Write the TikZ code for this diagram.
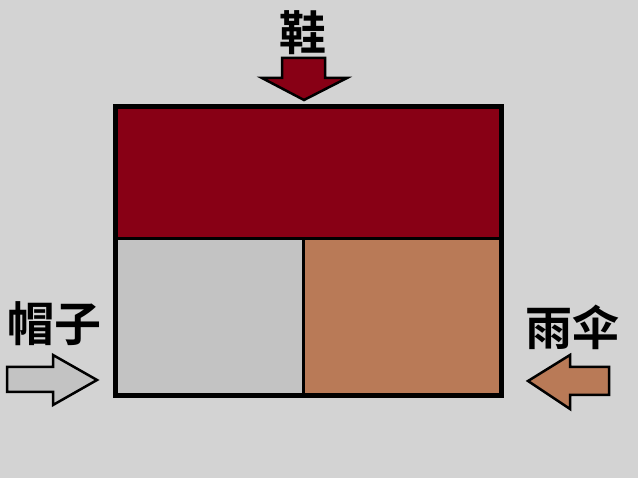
\documentclass[tikz,border=0pt]{standalone}
\usepackage{fontspec}
\newfontfamily\cjk{Noto Sans CJK SC Bold}
\usepackage{tikz}
\usetikzlibrary{
	positioning,
	calc
}
\definecolor{bggray}{HTML}{D3D3D3}
\definecolor{shoered}{HTML}{880015}
\definecolor{hatgray}{HTML}{C3C3C3}
\definecolor{umbrellabrown}{HTML}{B97A57}

\begin{document}
\begin{tikzpicture}[
				x=1pt, y=-1pt,
				cell/.style={
					rectangle, draw, line width=3pt,
					inner sep=0pt
				},
				label/.style={
					font=\cjk\fontsize{47}{50}\selectfont,
					inner sep=0pt
				},
				pointer/.style={draw, line width=2.5pt, line join=miter}
				]
				
				% background
				\useasboundingbox[fill=bggray] (0,0) rectangle (638,478);
				
				% shoes (top cell)
				\node[cell, fill=shoered, minimum width=384pt, minimum height=131pt] (shoes) at (308,173.5) {};
				
				% hat (lower left)
				\node[cell, fill=hatgray, minimum width=187pt, minimum height=156pt] (hat) at (209.5,317) {};
				
				% umbrella (lower right)
				\node[cell, fill=umbrellabrown, minimum width=197pt, minimum height=156pt] (umbrella) at (401.5,317) {};
				
				% outer frame
				\draw[line width=4pt] (shoes.north west) rectangle (umbrella.south east);
				
				% labels
				\node[label] (shoesLabel) at (303,33) {鞋};
				\node[label] (hatLabel) at (55,324) {帽子};
				\node[label] (umbrellaLabel) at (572,327) {雨伞};
				
				% arrows
				\draw[pointer, fill=shoered] (282,58) -- (325,58) -- (325,78) -- (347,78) -- (304,100) -- (262,78) -- (282,78) -- cycle;
				\draw[pointer, fill=hatgray] (7,367) -- (53,367) -- (53,355) -- (97,380) -- (53,405) -- (53,392) -- (7,392) -- cycle;
				\draw[pointer, fill=umbrellabrown] (609,367) -- (570,367) -- (570,355) -- (528,381) -- (570,409) -- (570,395) -- (609,395) -- cycle;
			\end{tikzpicture}
\end{document}
